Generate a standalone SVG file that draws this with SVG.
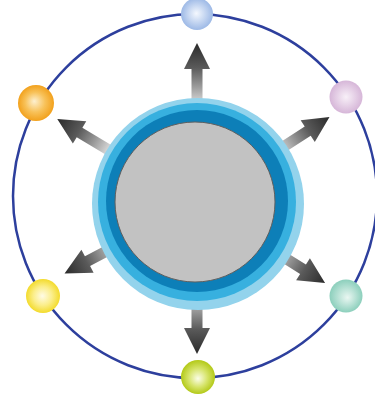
<svg xmlns="http://www.w3.org/2000/svg" width="375" height="403" viewBox="0 0 375 403">
<defs>
<linearGradient id="arrGrad" gradientUnits="userSpaceOnUse" x1="0" y1="0" x2="0" y2="62">
<stop offset="0" stop-color="#2a2a2a"/>
<stop offset="0.4" stop-color="#5a5a5a"/>
<stop offset="0.7" stop-color="#9a9a9a"/>
<stop offset="1" stop-color="#e0e0e0"/>
</linearGradient>
<path id="arrow" d="M0,0 L13,26 L5.5,26 L5.5,62 L-5.5,62 L-5.5,26 L-13,26 Z"/>
<radialGradient id="gBlue" cx="0.5" cy="0.5" r="0.5" fx="0.48" fy="0.48"><stop offset="0" stop-color="#f4f8fe"/><stop offset="1" stop-color="#9db9e6"/></radialGradient>
<radialGradient id="gOrange" cx="0.5" cy="0.5" r="0.5" fx="0.45" fy="0.45"><stop offset="0" stop-color="#fdf0d0"/><stop offset="0.55" stop-color="#f8c25a"/><stop offset="1" stop-color="#f2a11c"/></radialGradient>
<radialGradient id="gPink" cx="0.5" cy="0.5" r="0.5" fx="0.5" fy="0.5"><stop offset="0" stop-color="#f8f0f8"/><stop offset="1" stop-color="#d6b6d8"/></radialGradient>
<radialGradient id="gYellow" cx="0.5" cy="0.5" r="0.5" fx="0.48" fy="0.5"><stop offset="0" stop-color="#fffbe6"/><stop offset="0.55" stop-color="#fbee8a"/><stop offset="1" stop-color="#f3db2c"/></radialGradient>
<radialGradient id="gTeal" cx="0.5" cy="0.5" r="0.5" fx="0.55" fy="0.55"><stop offset="0" stop-color="#eaf7f2"/><stop offset="1" stop-color="#8ccfbc"/></radialGradient>
<radialGradient id="gGreen" cx="0.5" cy="0.5" r="0.5" fx="0.5" fy="0.55"><stop offset="0" stop-color="#fbfde8"/><stop offset="0.55" stop-color="#d6e46a"/><stop offset="1" stop-color="#b3c918"/></radialGradient>
</defs>
<style>
.ball{stroke:none}
.arr{fill:url(#arrGrad)}
</style>
<rect width="375" height="403" fill="#ffffff"/>
<circle id="orbit" cx="195" cy="196" r="182" fill="none" stroke="#2d3f9d" stroke-width="2.5"/>
<g id="connectors">
<use href="#arrow" class="arr" transform="translate(197 203) rotate(0) translate(0 -160)"/>
<use href="#arrow" class="arr" transform="translate(197 203) rotate(57) translate(0 -158)"/>
<use href="#arrow" class="arr" transform="translate(197 203) rotate(122) translate(0 -151)"/>
<use href="#arrow" class="arr" transform="translate(197 203) rotate(180) translate(0 -151)"/>
<use href="#arrow" class="arr" transform="translate(197 203) rotate(242) translate(0 -150)"/>
<use href="#arrow" class="arr" transform="translate(197 203) rotate(301) translate(0 -163)"/>
</g>
<g id="center">
<circle cx="198" cy="204" r="106" fill="#93d3ec"/>
<circle cx="197" cy="202" r="99" fill="#37b0df"/>
<circle cx="197" cy="201" r="91" fill="#0d7fb8"/>
<circle cx="195" cy="202" r="80" fill="#c2c2c2" stroke="#5f5f5f" stroke-width="1"/>
</g>
<g id="n-top"><circle class="ball" cx="197" cy="14" r="16" fill="url(#gBlue)"/></g>
<g id="n-tr"><circle class="ball" cx="346" cy="97" r="16.5" fill="url(#gPink)"/></g>
<g id="n-br"><circle class="ball" cx="346" cy="296" r="16.5" fill="url(#gTeal)"/></g>
<g id="n-bottom"><circle class="ball" cx="198" cy="377" r="17" fill="url(#gGreen)"/></g>
<g id="n-bl"><circle class="ball" cx="43" cy="296" r="17" fill="url(#gYellow)"/></g>
<g id="n-tl"><circle class="ball" cx="36" cy="103" r="18" fill="url(#gOrange)"/></g>
</svg>
